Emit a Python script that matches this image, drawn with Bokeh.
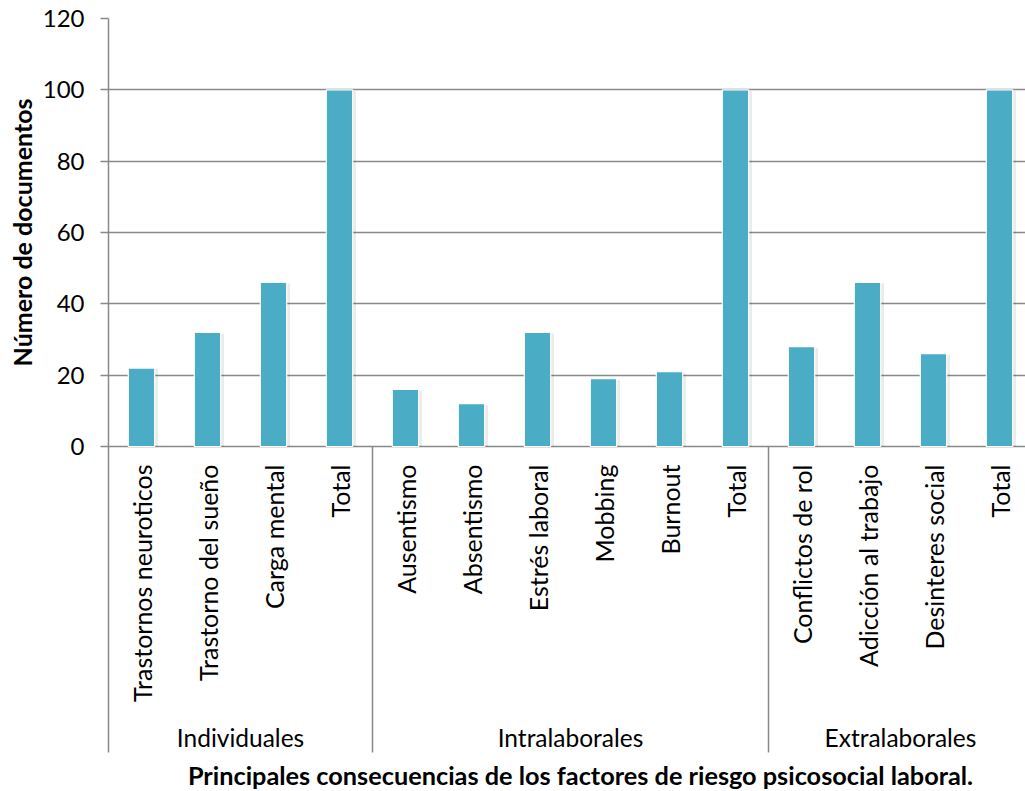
import numpy as np
from bokeh.plotting import figure
from bokeh.models import Range1d, FixedTicker, ColumnDataSource, Title
from bokeh.core.properties import value
from bokeh.embed import file_html
from bokeh.resources import INLINE

# ---- data ----
groups = ["Individuales", "Intralaborales", "Extralaborales"]
individuales_cats = ["Trastornos neuroticos", "Trastorno del sueño", "Carga mental", "Total"]
individuales_vals = [22, 32, 46, 100]
intralaborales_cats = ["Ausentismo", "Absentismo", "Estrés laboral", "Mobbing", "Burnout", "Total"]
intralaborales_vals = [16, 12, 32, 19, 21, 100]
extralaborales_cats = ["Conflictos de rol", "Adicción al trabajo", "Desinteres social", "Total"]
extralaborales_vals = [28, 46, 26, 100]
y_ticks = [0, 20, 40, 60, 80, 100, 120]

y_title = "Número de documentos"
x_title = "Principales consecuencias de los factores de riesgo psicosocial laboral."

# ---- layout constants ----
W, H = 1025, 790
FRAME_L, FRAME_T = 108, 18
PX_PER_CAT = 66.0
Y0_PX = 446.0
PX_PER_UNIT = (Y0_PX - FRAME_T) / 120.0
FONT = "Lato"
BAR_COLOR = "#4BACC6"
GRID_COLOR = "#898989"

cat_lists = [individuales_cats, intralaborales_cats, extralaborales_cats]
val_lists = [individuales_vals, intralaborales_vals, extralaborales_vals]
cats = [c for lst in cat_lists for c in lst]
vals = [v for lst in val_lists for v in lst]
n = len(cats)
xs = np.arange(n) + 0.5

x_end = (W - FRAME_L) / PX_PER_CAT
y_start = -(H - Y0_PX) / PX_PER_UNIT
y_top = 120.0
sep_bottom = -(752 - Y0_PX) / PX_PER_UNIT

p = figure(width=W, height=H, output_backend="svg", toolbar_location=None,
           x_range=Range1d(0, x_end), y_range=Range1d(y_start, y_top),
           min_border_left=FRAME_L, min_border_top=FRAME_T,
           min_border_right=0, min_border_bottom=0)
p.outline_line_color = None
p.xaxis.visible = False
p.xgrid.visible = False
p.background_fill_color = "white"
p.border_fill_color = "white"

yax = p.yaxis[0]
yax.ticker = FixedTicker(ticks=y_ticks, minor_ticks=[])
yax.bounds = (sep_bottom, y_top)
yax.axis_line_color = GRID_COLOR
yax.axis_line_width = 1.5
yax.major_tick_line_color = GRID_COLOR
yax.major_tick_line_width = 1.5
yax.major_tick_out = 8
yax.major_tick_in = 0
yax.minor_tick_line_color = None
yax.major_label_text_font = FONT
yax.major_label_text_font_size = "24px"
yax.major_label_text_color = "black"
yax.major_label_standoff = 16

p.ygrid.ticker = FixedTicker(ticks=y_ticks)
p.ygrid.grid_line_color = GRID_COLOR
p.ygrid.grid_line_width = 1.5

# y-axis title: its upper end placed so that it is centred on the 0..120 part
p.add_layout(Title(text=y_title, align="right", offset=98 - FRAME_T,
                   text_font=FONT, text_font_style="bold", text_font_size="25px",
                   text_color="black", standoff=6), "left")

src = ColumnDataSource(dict(x=xs, top=vals, cat=cats))

# soft shadow
p.vbar(x=xs + 0.03, top=np.array(vals) - 0.3, bottom=0, width=0.44,
       fill_color="black", fill_alpha=0.08, line_color=None)
p.vbar(x="x", top="top", bottom=0, width=0.40, source=src,
       fill_color=BAR_COLOR, line_color="white", line_width=1.2)

# category labels (vertical)
p.text(x="x", y=-(464 - Y0_PX) / PX_PER_UNIT, text="cat", source=src,
       angle=np.pi / 2, text_align="right", text_baseline="middle",
       text_font=value(FONT), text_font_size=value("25px"), text_color="black")

# group separators and group labels
sizes = [len(c) for c in cat_lists]
bounds = np.cumsum([0] + sizes)
p.segment(x0=bounds[1:-1], y0=0, x1=bounds[1:-1], y1=sep_bottom,
          line_color=GRID_COLOR, line_width=1.5)
centers = (bounds[:-1] + bounds[1:]) / 2.0
p.text(x=centers, y=-(737 - Y0_PX) / PX_PER_UNIT, text=groups,
       text_align="center", text_baseline="middle",
       text_font=value(FONT), text_font_size=value("24.5px"), text_color="black")

# x-axis title
p.text(x=[(580 - FRAME_L) / PX_PER_CAT], y=[-(774 - Y0_PX) / PX_PER_UNIT], text=[x_title],
       text_align="center", text_baseline="middle",
       text_font=value(FONT), text_font_style="bold", text_font_size=value("25.3px"),
       text_color="black")

open("out.html", "w").write(file_html(p, INLINE))
